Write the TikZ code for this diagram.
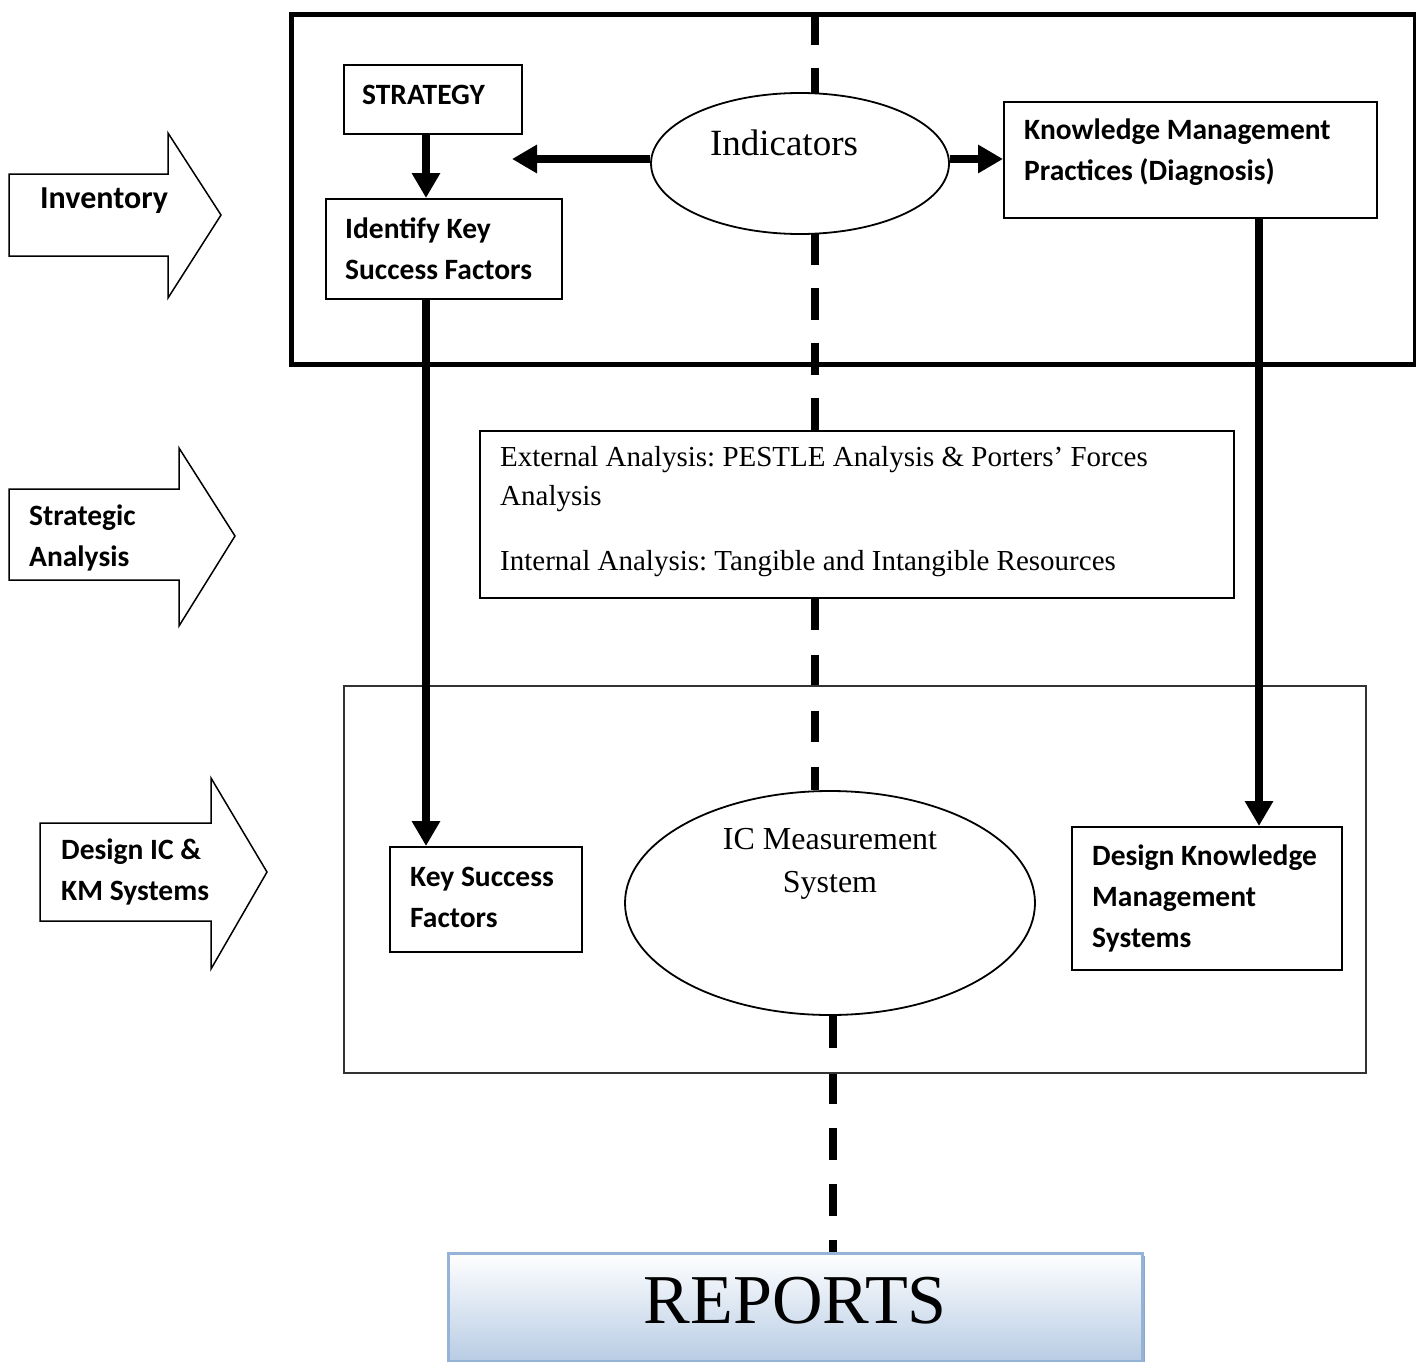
\documentclass[tikz,border=0pt]{standalone}
\usepackage{fontspec}
\setmainfont{Liberation Serif}
\newfontfamily\boxfont{Carlito}
\usetikzlibrary{arrows.meta,shapes.geometric,backgrounds}
\definecolor{repblue}{HTML}{B8CCE4}
\definecolor{repedge}{HTML}{95B3D7}
\definecolor{repshade}{HTML}{8AA6CC}
\definecolor{frame}{HTML}{333333}
\frenchspacing
\begin{document}
\begin{tikzpicture}[x=1pt,y=-1pt,
  lbl/.style={font=\boxfont\bfseries\fontsize{29.5}{41}\selectfont, align=left, anchor=west, inner sep=0pt},
  serif/.style={font=\fontsize{29}{39}\selectfont, align=left, inner sep=0pt},
  stepbox/.style={draw, line width=2pt, fill=white, anchor=north west, inner sep=0pt},
  oval/.style={ellipse, draw, line width=1.8pt, fill=white, inner sep=0pt},
  bigarrow/.style={line width=8pt, -{Triangle[length=25pt,width=27pt]}},
  dashline/.style={line width=8.5pt},
  blockarrow/.style={draw, line width=1.5pt, fill=white, line join=miter}
]
\useasboundingbox (0,0) rectangle (1416,1362);

\coordinate (dtop) at (815,13);
\coordinate (dbot) at (833,0);

% outer frames of the inventory and design stages
\node[draw, line width=5pt, anchor=north west, inner sep=0pt,
      minimum width=1124pt, minimum height=350pt] (topbox) at (289,12) {};
\node[draw=frame, line width=2pt, anchor=north west, inner sep=0pt,
      minimum width=1022pt, minimum height=387pt] (lowbox) at (343,685) {};

% boxes and ovals
\node[stepbox, minimum width=754pt, minimum height=167pt] (ext) at (479,430) {};
\node[oval, minimum width=298pt, minimum height=141pt] (ind) at (800,163.5) {};
\node[oval, minimum width=410pt, minimum height=224pt] (ic) at (830,903) {};

\node[stepbox, minimum width=178pt, minimum height=69pt]  (strat) at (343,64) {};
\node[stepbox, minimum width=236pt, minimum height=100pt] (iksf)  at (325,198) {};
\node[stepbox, minimum width=373pt, minimum height=116pt] (kmp)   at (1003,101) {};
\node[stepbox, minimum width=192pt, minimum height=105pt] (ksf)   at (389,846) {};
\node[stepbox, minimum width=270pt, minimum height=143pt] (dkm)   at (1071,826) {};

% report banner with its shadow
\begin{scope}[on background layer]
  \fill[repshade] (451,1256) rectangle (1145,1364);
\end{scope}
\node[draw=repedge, line width=2.5pt, top color=white, bottom color=repblue,
      anchor=north west, inner sep=0pt, minimum width=694pt, minimum height=108pt]
      (rep) at (447,1252) {};
\node[font=\fontsize{70}{70}\selectfont, inner sep=0pt, yshift=7pt] (rep-t) at (rep.center) {REPORTS};

% dashed spine, kept behind the boxes and ovals
\begin{scope}[on background layer]
  \draw[dashline, dash pattern=on 32pt off 23pt] (dtop) -- (dtop |- ext.north);
  \draw[dashline, dash pattern=on 31pt off 25pt] (dtop |- ext.south) -- (dtop |- ic.north);
  \draw[dashline, dash pattern=on 32pt off 24pt] (dbot |- ic.south) -- (dbot |- rep.north);
\end{scope}

% texts
\node[lbl, xshift=19pt, yshift=4.5pt] (strat-t) at (strat.west) {STRATEGY};
\node[lbl, xshift=20pt] (iksf-t) at (iksf.west) {Identify Key\\Success Factors};
\node[lbl, xshift=21pt, yshift=8pt] (kmp-t) at (kmp.west) {Knowledge Management\\Practices (Diagnosis)};
\node[lbl, xshift=21pt, yshift=2pt] (ksf-t) at (ksf.west) {Key Success\\Factors};
\node[lbl, xshift=21pt] (dkm-t) at (dkm.west) {Design Knowledge\\Management\\Systems};
\node[serif, anchor=west, xshift=21pt, yshift=3pt] (ext-t) at (ext.west)
  {External Analysis: PESTLE Analysis \& Porters’ Forces\\Analysis\\[26pt]Internal Analysis: Tangible and Intangible Resources};
\node[font=\fontsize{37}{40}\selectfont, inner sep=0pt] (ind-t) at (784,143) {Indicators};
\node[font=\fontsize{32}{43}\selectfont, align=center, inner sep=0pt] (ic-t) at (830,864) {IC Measurement\\System};

% connectors
\coordinate (indL) at (512,159);
\draw[bigarrow] ([xshift=-7pt]strat.south) -- ([xshift=-7pt]strat.south |- iksf.north);
\draw[bigarrow] (ind.west |- indL) -- (indL);
\draw[bigarrow] (ind.east |- indL) -- (kmp.west |- indL);
\draw[bigarrow] ([xshift=-18pt]iksf.south) -- ([xshift=-18pt]iksf.south |- ksf.north);
\draw[bigarrow] ([xshift=68.5pt]kmp.south) -- ([xshift=68.5pt]kmp.south |- dkm.north);

% stage arrows on the left
\draw[blockarrow] (9,174) -- (168,174) -- (168,133) -- (221,215) -- (168,298) -- (168,256) -- (9,256) -- cycle;
\node[lbl, font=\boxfont\bfseries\fontsize{32}{41}\selectfont] (inv-t) at (40,201) {Inventory};
\draw[blockarrow] (9,489) -- (179,489) -- (179,448) -- (235,536) -- (179,626) -- (179,580) -- (9,580) -- cycle;
\node[lbl] (sa-t) at (29,537.5) {Strategic\\Analysis};
\draw[blockarrow] (40,823) -- (211,823) -- (211,778) -- (267,872) -- (211,969) -- (211,921) -- (40,921) -- cycle;
\node[lbl] (dic-t) at (61,871.5) {Design IC \&\\KM Systems};
\end{tikzpicture}
\end{document}
